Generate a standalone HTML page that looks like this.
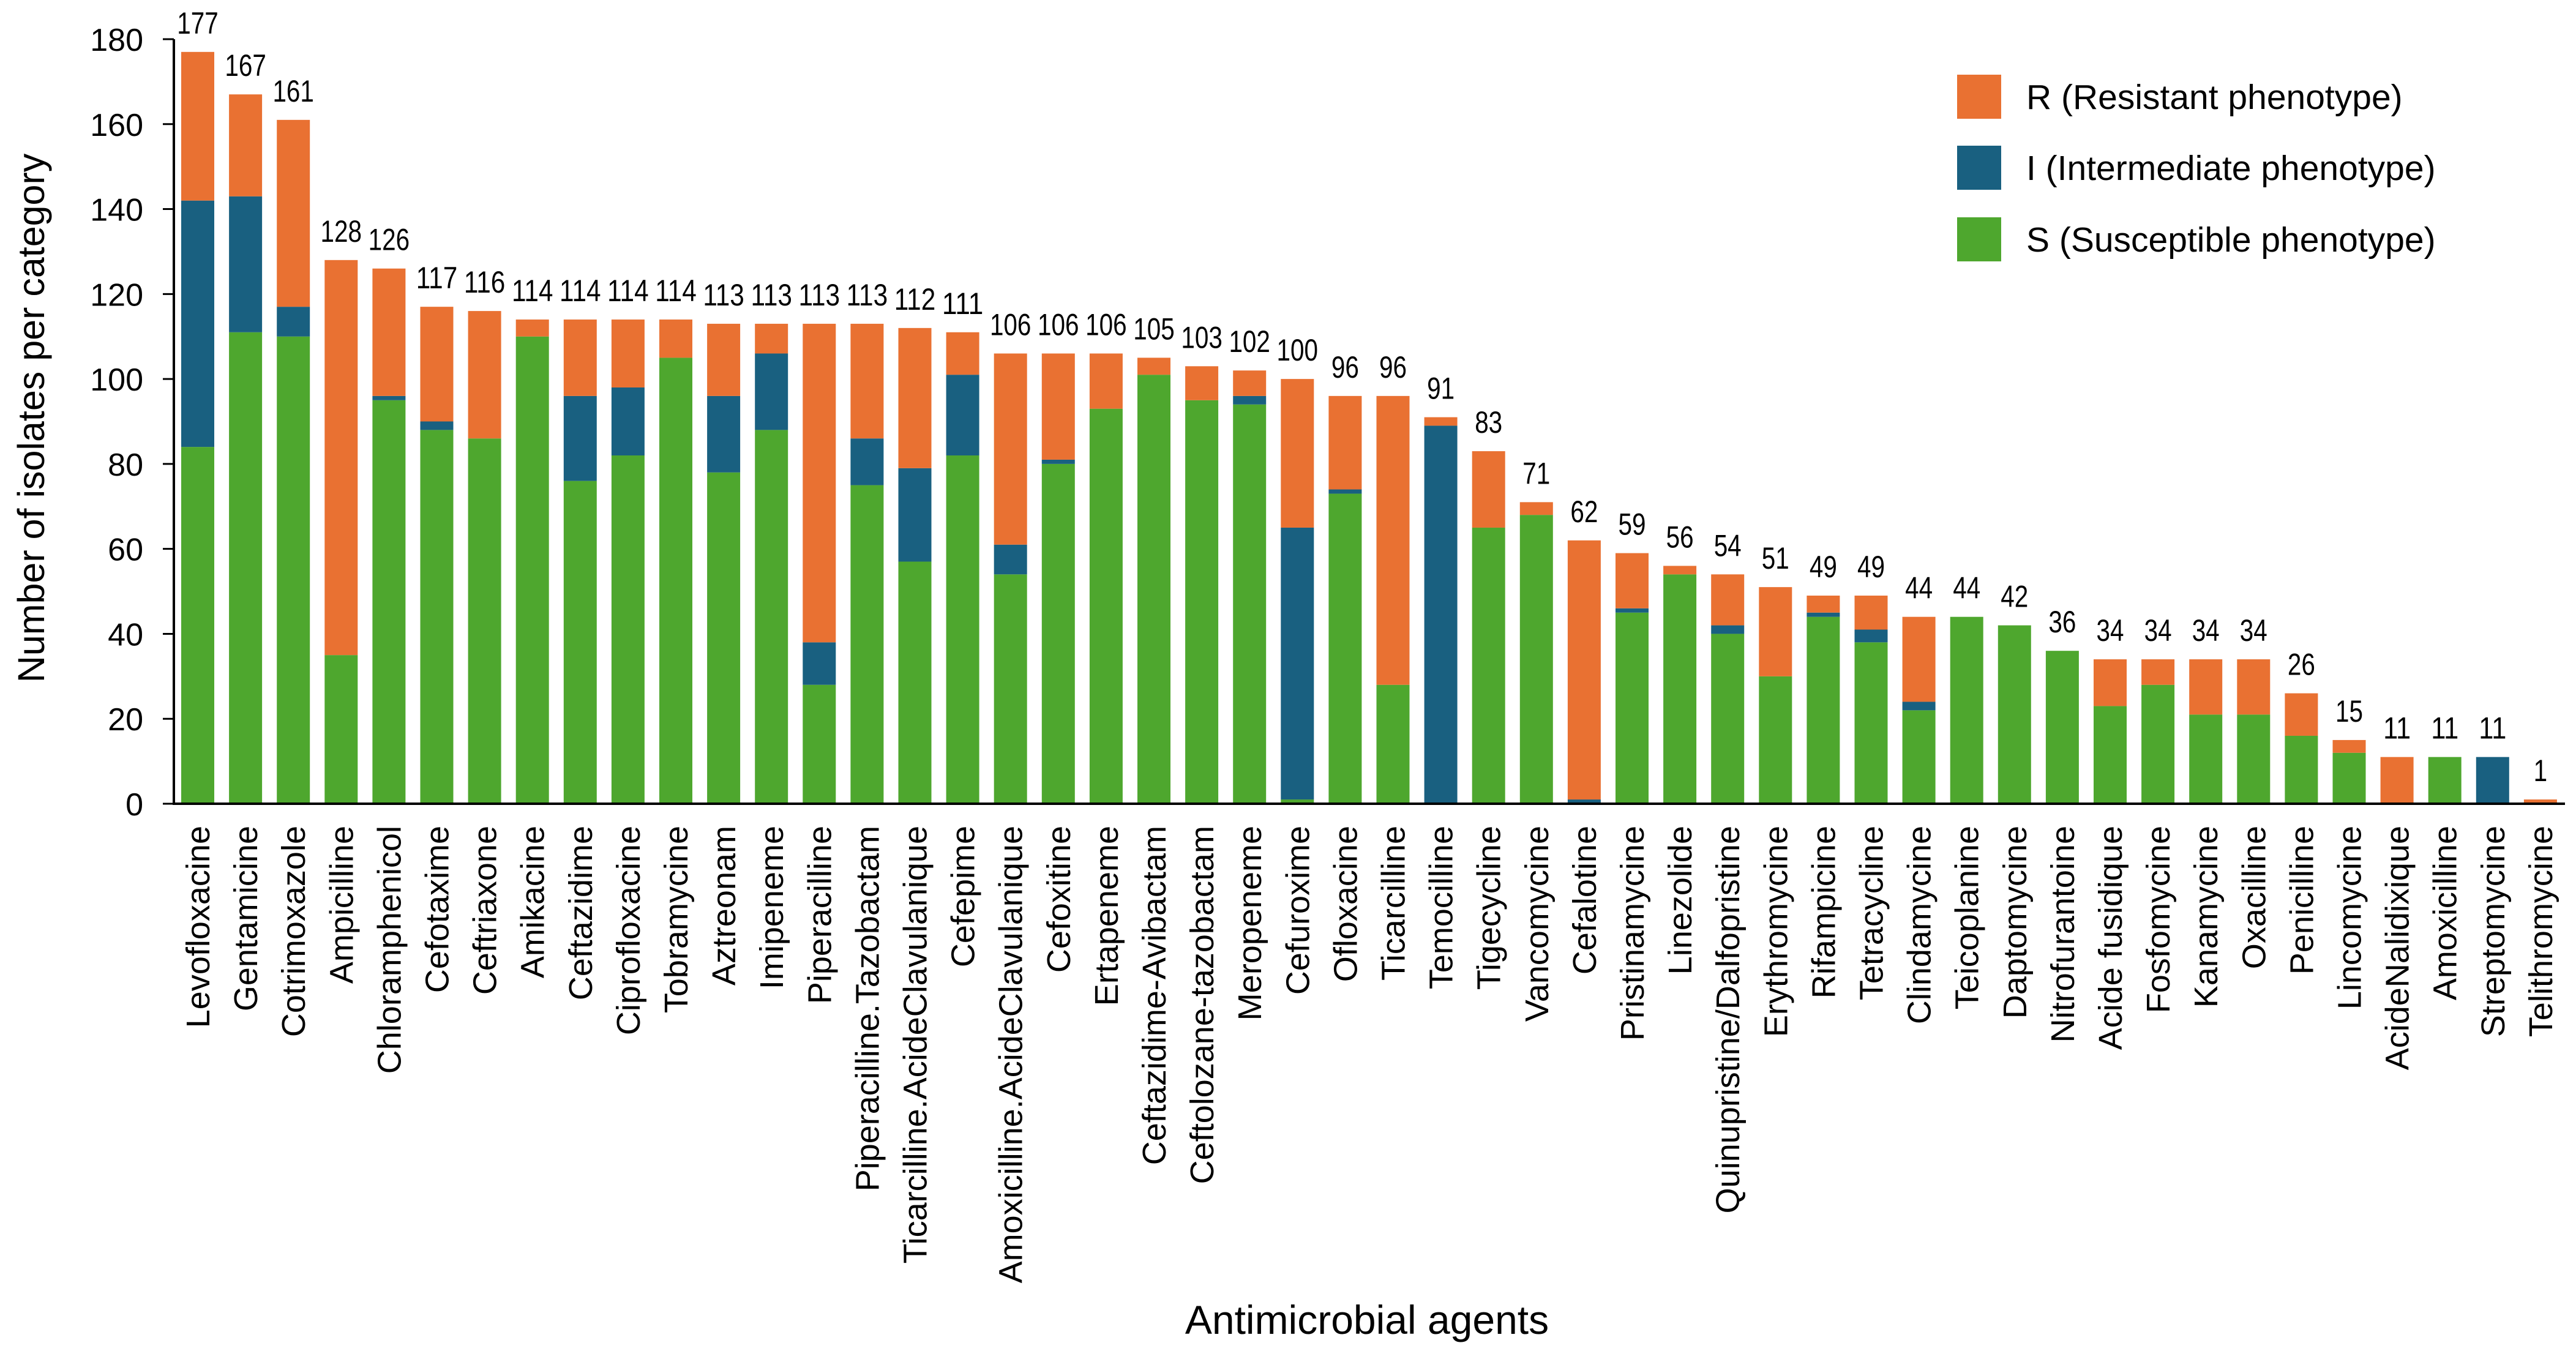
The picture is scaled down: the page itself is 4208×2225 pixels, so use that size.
<!DOCTYPE html>
<html><head><meta charset="utf-8">
<style>
html,body{margin:0;padding:0;background:#fff;}
svg{display:block;font-family:"Liberation Sans",Arial,sans-serif;}
</style></head>
<body>
<svg id="chart" width="4208" height="2225" viewBox="0 0 4208 2225" xmlns="http://www.w3.org/2000/svg">
  <g id="bars"></g>
  <g id="yaxis"></g>
  <g id="xaxis"></g>
  <text x="0" y="0" transform="translate(72,683) rotate(-90)" text-anchor="middle" font-size="61" fill="#000">Number of isolates per category</text>
  <text x="2233" y="2179" text-anchor="middle" font-size="66" fill="#000">Antimicrobial agents</text>
  <g>
    <g>
      <rect x="3197" y="122" width="72" height="72" fill="#E97132"/>
      <text x="3310" y="178" font-size="57" fill="#000">R (Resistant phenotype)</text>
    </g>
    <g>
      <rect x="3197" y="238" width="72" height="72" fill="#196080"/>
      <text x="3310" y="294" font-size="57" fill="#000">I (Intermediate phenotype)</text>
    </g>
    <g>
      <rect x="3197" y="355" width="72" height="72" fill="#4EA72E"/>
      <text x="3310" y="411" font-size="57" fill="#000">S (Susceptible phenotype)</text>
    </g>
  </g>
</svg>
<script>
const categories = ["Levofloxacine","Gentamicine","Cotrimoxazole","Ampicilline","Chloramphenicol","Cefotaxime","Ceftriaxone","Amikacine","Ceftazidime","Ciprofloxacine","Tobramycine","Aztreonam","Imipeneme","Piperacilline","Piperacilline.Tazobactam","Ticarcilline.AcideClavulanique","Cefepime","Amoxicilline.AcideClavulanique","Cefoxitine","Ertapeneme","Ceftazidime-Avibactam","Ceftolozane-tazobactam","Meropeneme","Cefuroxime","Ofloxacine","Ticarcilline","Temocilline","Tigecycline","Vancomycine","Cefalotine","Pristinamycine","Linezolide","Quinupristine/Dalfopristine","Erythromycine","Rifampicine","Tetracycline","Clindamycine","Teicoplanine","Daptomycine","Nitrofurantoine","Acide fusidique","Fosfomycine","Kanamycine","Oxacilline","Penicilline","Lincomycine","AcideNalidixique","Amoxicilline","Streptomycine","Telithromycine"];
const susceptible = [84,111,110,35,95,88,86,110,76,82,105,78,88,28,75,57,82,54,80,93,101,95,94,1,73,28,0,65,68,0,45,54,40,30,44,38,22,44,42,36,23,28,21,21,16,12,0,11,0,0];
const intermediate = [58,32,7,0,1,2,0,0,20,16,0,18,18,10,11,22,19,7,1,0,0,0,2,64,1,0,89,0,0,1,1,0,2,0,1,3,2,0,0,0,0,0,0,0,0,0,0,0,11,0];
const resistant = [35,24,44,93,30,27,30,4,18,16,9,17,7,75,27,33,10,45,25,13,4,8,6,35,22,68,2,18,3,61,13,2,12,21,4,8,20,0,0,0,11,6,13,13,10,3,11,0,0,1];
const yTicks = [0,20,40,60,80,100,120,140,160,180];

const NS = "http://www.w3.org/2000/svg";
const X0 = 284, Y0 = 1313, Ytop = 64, YMAX = 180;
const firstCenter = 323, pitch = 78.1, barW = 54;
function yScale(v){ return Y0 - v/YMAX*(Y0-Ytop); }
function xCenter(i){ return firstCenter + i*pitch; }
function mk(tag, attrs, parent){ const e=document.createElementNS(NS,tag); for(const k in attrs) e.setAttribute(k,attrs[k]); parent.appendChild(e); return e; }

const bars = document.getElementById('bars');
const colors = {s:"#4EA72E", i:"#196080", r:"#E97132"};
categories.forEach((c, idx) => {
  const g = mk('g', {}, bars);
  
  
  const segs = [["s",susceptible[idx]],["i",intermediate[idx]],["r",resistant[idx]]];
  let base = 0;
  segs.forEach(([k,v]) => {
    if (v > 0) {
      const r = mk('rect', {x: xCenter(idx)-barW/2, y: yScale(base+v), width: barW, height: yScale(base)-yScale(base+v), fill: colors[k]}, g);
      
      
    }
    base += v;
  });
  const t = mk('text', {x: xCenter(idx), y: yScale(base)-30, 'text-anchor':'middle', 'font-size':'50', fill:'#000'}, g);
  
  
  const s = String(base);
  t.setAttribute('textLength', s.length*22.5);
  t.setAttribute('lengthAdjust', 'spacingAndGlyphs');
  t.textContent = s;
  const lbl = mk('text', {x:0, y:0, transform:`translate(${xCenter(idx)+19},1349) rotate(-90)`, 'text-anchor':'end', 'font-size':'54', fill:'#000'}, g);
  
  
  lbl.textContent = c;
});

const yaxis = document.getElementById('yaxis');
const yl = mk('line', {x1:X0, y1:Ytop, x2:X0, y2:Y0, stroke:'#000', 'stroke-width':4}, yaxis);


yTicks.forEach(v => {
  const tk = mk('line', {x1:X0-18, y1:yScale(v), x2:X0, y2:yScale(v), stroke:'#000', 'stroke-width':3}, yaxis);
  
  
  const t = mk('text', {x:234, y:yScale(v)+19, 'text-anchor':'end', 'font-size':'52', fill:'#000'}, yaxis);
  
  
  t.textContent = v;
});
const xaxis = document.getElementById('xaxis');
const xl = mk('line', {x1:X0-2, y1:Y0, x2:4190, y2:Y0, stroke:'#000', 'stroke-width':4}, xaxis);


</script>
</body></html>
